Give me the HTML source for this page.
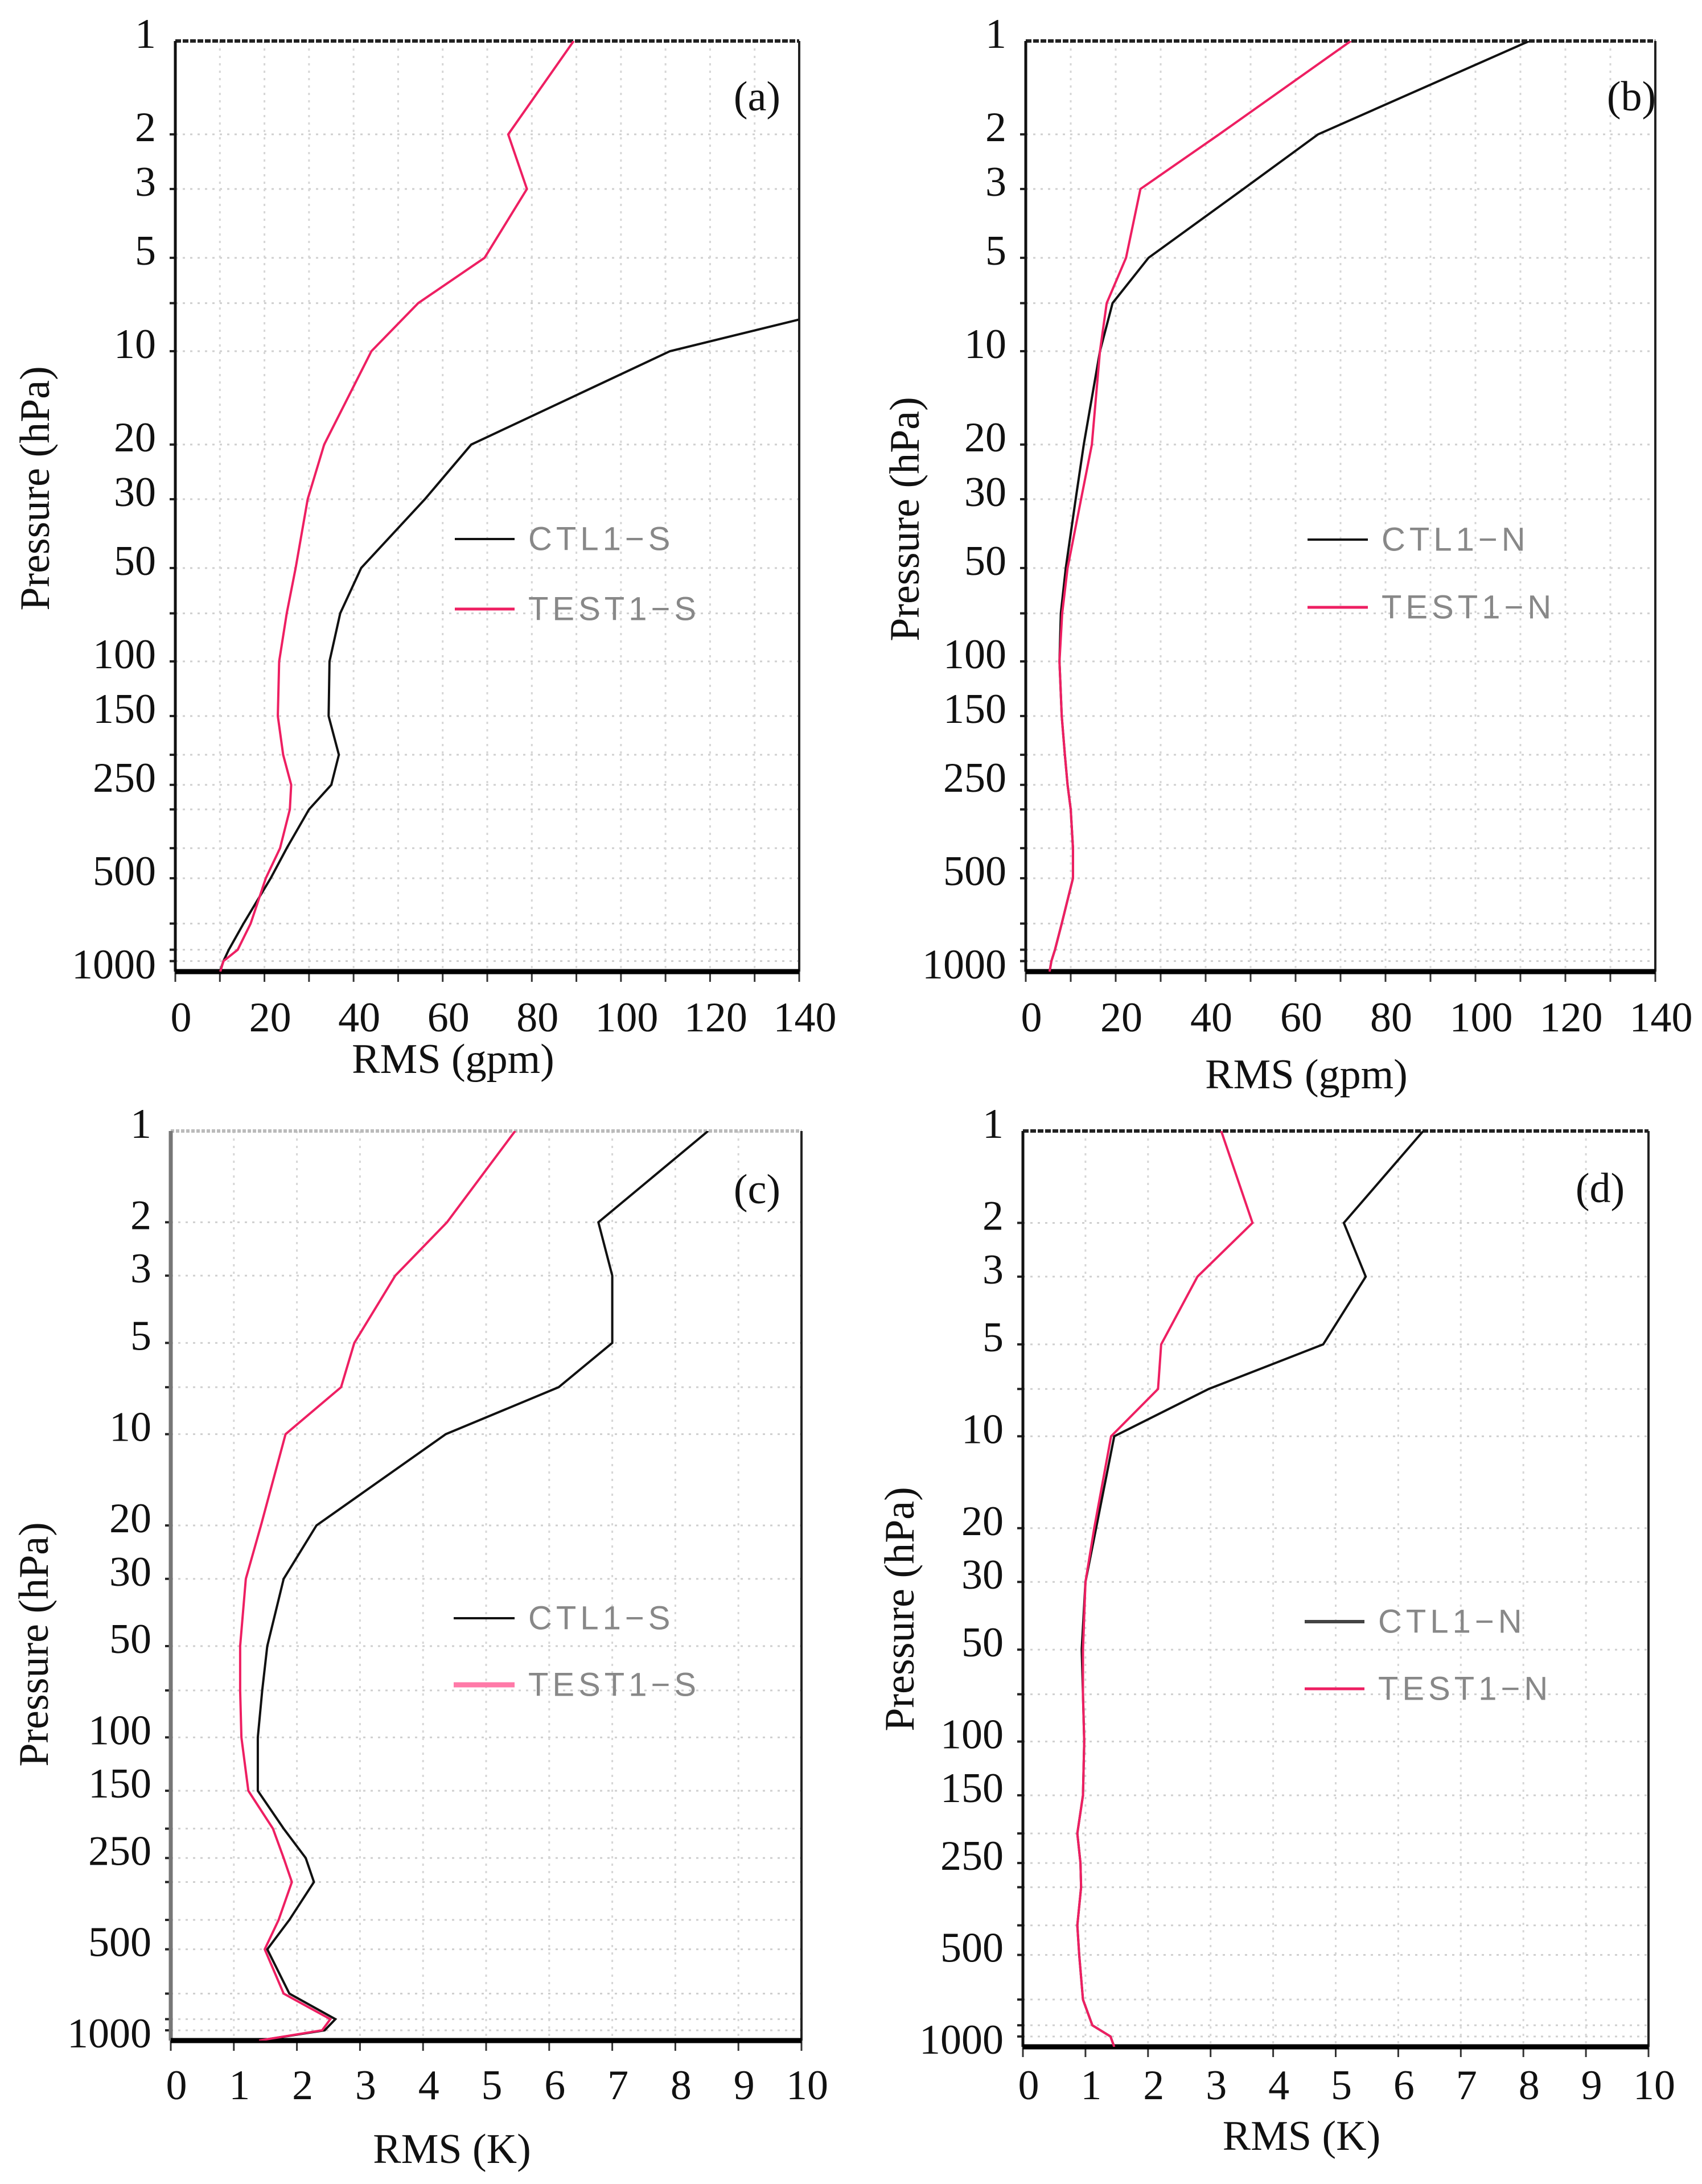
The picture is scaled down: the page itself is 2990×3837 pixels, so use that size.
<!DOCTYPE html>
<html><head><meta charset="utf-8">
<style>
html,body{margin:0;padding:0;background:#fff;}
svg{display:block;}
.tk{font-family:"Liberation Serif",serif;font-size:74px;fill:#111;}
.lg{font-family:"Liberation Sans",sans-serif;font-size:58px;fill:#888;letter-spacing:7px;}
</style></head>
<body>
<svg id="fig" width="2990" height="3837" viewBox="0 0 2990 3837" xmlns="http://www.w3.org/2000/svg"></svg>
<script>
const levels = [1,2,3,5,7,10,20,30,50,70,100,150,200,250,300,400,500,700,850,925,1000];
const gridLevels = [2,3,5,7,10,20,30,50,70,100,150,200,250,300,400,500,700,850,925];
const yTickLabels = [1,2,3,5,10,20,30,50,100,150,250,500,1000];
const gpmTicks = [0,20,40,60,80,100,120,140];
const kTicks = [0,1,2,3,4,5,6,7,8,9,10];
const aCTL = [400,330,300,220,155,111,66.4,56,41.7,37,34.6,34.4,36.7,35,30,25,21.4,15.3,12,10.8,10];
const aTEST = [89.4,74.7,78.9,69.4,54.5,44,33.4,29.7,27,25,23.3,23,24.2,26,25.7,23.5,20.3,16.9,14,10.8,10.1];
const bCTL = [112,65,48.4,27.3,19.3,16.5,12.9,11.1,8.9,7.8,7.5,8,8.7,9.3,10,10.5,10.5,8,6.5,5.7,5.3];
const bTEST = [72.3,43,25.5,22.3,18,16.5,14.7,12.3,9.3,8.1,7.5,8,8.7,9.3,10,10.5,10.5,8,6.5,5.7,5.3];
const cCTL = [8.52,6.78,7.0,7.0,6.15,4.36,2.31,1.79,1.53,1.45,1.38,1.38,1.79,2.14,2.27,1.88,1.53,1.88,2.61,2.44,1.4];
const cTEST = [5.46,4.38,3.56,2.91,2.7,1.82,1.43,1.19,1.1,1.1,1.12,1.23,1.62,1.79,1.92,1.71,1.49,1.79,2.53,2.4,1.4];
const dCTL = [6.4,5.13,5.48,4.8,2.97,1.46,1.17,1.0,0.94,0.96,0.98,0.96,0.87,0.92,0.93,0.87,0.9,0.96,1.11,1.4,1.46];
const dTEST = [3.17,3.67,2.79,2.21,2.16,1.41,1.14,1.0,0.96,0.96,0.98,0.96,0.87,0.92,0.93,0.87,0.9,0.96,1.11,1.4,1.46];

const NS="http://www.w3.org/2000/svg";
const svg=document.getElementById('fig');
const SERIF='"Liberation Serif", "Times New Roman", serif';
function mk(tag,attrs,parent){const e=document.createElementNS(NS,tag);for(const k in attrs)e.setAttribute(k,attrs[k]);(parent||svg).appendChild(e);return e;}
const RED="#ee1f62";

const panels=[
 {id:'a',L:308,R:1404,T:72,B:1707,xmax:140,minor:10,ticks:gpmTicks,xt:'RMS (gpm)',xty:1885,xlab:1812,py:858,px:62,lab:[1330,170],ctl:aCTL,test:aTEST,
  leg:{x1:799,x2:904,y:947,y2:1070,names:['CTL1\u2212S','TEST1\u2212S'],tw:5,tc:RED},topDark:true},
 {id:'b',L:1802,R:2908,T:72,B:1707,xmax:140,minor:10,ticks:gpmTicks,xt:'RMS (gpm)',xty:1912,xlab:1812,py:912,px:1590,lab:[2866,170],ctl:bCTL,test:bTEST,
  leg:{x1:2297,x2:2403,y:948,y2:1067,names:['CTL1\u2212N','TEST1\u2212N'],tw:5,tc:RED},topDark:true},
 {id:'c',L:300,R:1408,T:1987,B:3585,xmax:10,minor:1,ticks:kTicks,xt:'RMS (K)',xty:3800,xlab:3688,py:2889,px:60,lab:[1330,2090],ctl:cCTL,test:cTEST,
  leg:{x1:797,x2:904,y:2843,y2:2960,names:['CTL1\u2212S','TEST1\u2212S'],tw:9,tc:'#ff7aa8'},topDark:false},
 {id:'d',L:1797,R:2896,T:1987,B:3596,xmax:10,minor:1,ticks:kTicks,xt:'RMS (K)',xty:3777,xlab:3688,py:2827,px:1581,lab:[2811,2088],ctl:dCTL,test:dTEST,
  leg:{x1:2292,x2:2397,y:2849,y2:2967,names:['CTL1\u2212N','TEST1\u2212N'],tw:5,tc:RED},topDark:true}
];

panels.forEach(p=>{
  const g=mk('g',{});
  
  
  const xs=v=>p.L+(v/p.xmax)*(p.R-p.L);
  const ys=pr=>p.T+Math.log10(pr)/3*(p.B-p.T);
  const clip=mk('clipPath',{id:'clip'+p.id},g);
  mk('rect',{x:p.L,y:p.T,width:p.R-p.L,height:p.B-p.T},clip);
  gridLevels.forEach(lv=>{
    const l=mk('line',{x1:p.L,x2:p.R,y1:ys(lv),y2:ys(lv),stroke:'#cfcfcf','stroke-width':3,'stroke-dasharray':'4 9'},g);
    
    
    mk('line',{x1:p.L-10,x2:p.L,y1:ys(lv),y2:ys(lv),stroke:'#222','stroke-width':4},g);
  });
  for(let v=p.minor;v<p.xmax;v+=p.minor){
    const l=mk('line',{x1:xs(v),x2:xs(v),y1:p.T,y2:p.B,stroke:'#d6d6d6','stroke-width':3,'stroke-dasharray':'4 9'},g);
    
    
  }
  for(let v=0;v<=p.xmax;v+=p.minor){
    mk('line',{x1:xs(v),x2:xs(v),y1:p.B,y2:p.B+18,stroke:'#333','stroke-width':3},g);
  }
  mk('line',{x1:p.L,x2:p.R,y1:p.T,y2:p.T,stroke:p.topDark?'#222':'#bbb','stroke-width':6,'stroke-dasharray':p.topDark?'10 3':'6 3'},g);
  mk('line',{x1:p.R,x2:p.R,y1:p.T,y2:p.B,stroke:'#222','stroke-width':4},g);
  mk('line',{x1:p.L,x2:p.L,y1:p.T,y2:p.B,stroke:p.id==='c'?'#777':'#111','stroke-width':p.id==='c'?7:5},g);
  mk('line',{x1:p.L,x2:p.R,y1:p.B,y2:p.B,stroke:'#000','stroke-width':9},g);
  yTickLabels.forEach(lv=>{
    const t=mk('text',{x:p.L-34,y:ys(lv)-12,'text-anchor':'end','dominant-baseline':'central',class:'tk','font-family':SERIF,'font-size':74},g);
    t.textContent=lv;
    
    
  });
  p.ticks.forEach(v=>{
    const t=mk('text',{x:xs(v)+10,y:p.xlab,'text-anchor':'middle',class:'tk','font-family':SERIF,'font-size':74},g);
    t.textContent=v;
    
    
  });
  const xt=mk('text',{x:(p.L+p.R)/2-60,y:p.xty,'text-anchor':'middle',class:'tk','font-family':SERIF,'font-size':74},g);
  xt.textContent=p.xt;
  
  
  const yt=mk('text',{x:0,y:0,'text-anchor':'middle','dominant-baseline':'central',class:'tk','font-family':SERIF,'font-size':74,transform:`translate(${p.px},${p.py}) rotate(-90)`},g);
  yt.textContent='Pressure (hPa)';
  
  
  const pl=mk('text',{x:p.lab[0],y:p.lab[1],'text-anchor':'middle','dominant-baseline':'central',class:'tk','font-family':SERIF,'font-size':62},g);
  pl.textContent='('+p.id+')';
  
  
  const ptsC=levels.map((lv,i)=>xs(p.ctl[i])+','+ys(lv)).join(' ');
  const ptsT=levels.map((lv,i)=>xs(p.test[i])+','+ys(lv)).join(' ');
  const sc=mk('polyline',{points:ptsC,fill:'none',stroke:'#111','stroke-width':4,'clip-path':`url(#clip${p.id})`},g);
  
  
  const st=mk('polyline',{points:ptsT,fill:'none',stroke:RED,'stroke-width':4,'clip-path':`url(#clip${p.id})`},g);
  
  
  const lg=p.leg;
  const l1=mk('line',{x1:lg.x1,x2:lg.x2,y1:lg.y,y2:lg.y,stroke:p.id==='d'?'#444':'#111','stroke-width':p.id==='d'?6:4},g);
  
  
  const t1=mk('text',{x:lg.x2+24,y:lg.y,'dominant-baseline':'central',class:'lg'},g);
  t1.textContent=lg.names[0];
  
  
  const l2=mk('line',{x1:lg.x1,x2:lg.x2,y1:lg.y2,y2:lg.y2,stroke:lg.tc,'stroke-width':lg.tw},g);
  
  
  const t2=mk('text',{x:lg.x2+24,y:lg.y2,'dominant-baseline':'central',class:'lg'},g);
  t2.textContent=lg.names[1];
  
  
});
</script>
</body></html>
